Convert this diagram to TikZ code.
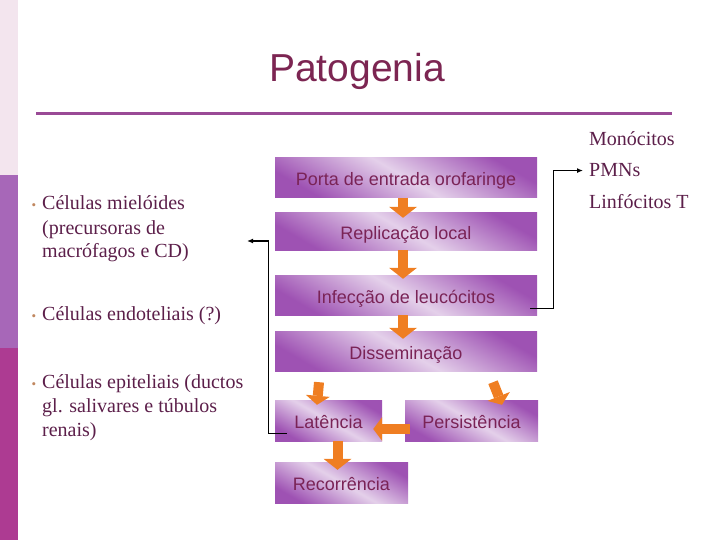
\documentclass[tikz,border=0pt]{standalone}
\usepackage{fontspec}
\setmainfont{Liberation Serif}
\setsansfont{Liberation Sans}
\usetikzlibrary{arrows.meta,positioning}

\definecolor{titlered}{HTML}{7C2552}
\definecolor{rulepurple}{HTML}{9A4A96}
\definecolor{stripa}{HTML}{F3E5EE}
\definecolor{stripb}{HTML}{A767B8}
\definecolor{stripc}{HTML}{AD3B92}
\definecolor{boxdark}{HTML}{9E52B3}
\definecolor{boxlight}{HTML}{E4D0EA}
\definecolor{boxtext}{HTML}{7A2356}
\definecolor{celltext}{HTML}{5C1F4A}
\definecolor{bulletc}{HTML}{C0875F}
\definecolor{arrowc}{HTML}{EF7E22}

\newcommand{\bul}{\llap{\textcolor{bulletc}{\fontsize{13}{13}\selectfont\textbullet}\hspace{6pt}}}

\begin{document}
\begin{tikzpicture}[
  x=1pt, y=-1pt,
  box/.style={top color=boxdark, bottom color=boxdark, middle color=boxlight, shading angle=-30,
    minimum width=262pt, minimum height=40pt, inner sep=0pt, text height=17pt, text depth=0.5pt,
    font=\sffamily\fontsize{18}{20}\selectfont, text=boxtext},
  celltext/.style={font=\fontsize{20}{24}\selectfont, text=celltext, inner sep=0pt, align=left},
  flowarrow/.style={draw=arrowc, line width=10pt, -{Triangle[width=28pt, length=11pt, line width=0pt]}},
  smallarrow/.style={draw=arrowc, line width=10pt, -{Triangle[width=24pt, length=9pt, line width=0pt]}},
  link/.style={draw=black, line width=1.2pt, -{Latex[length=6pt, width=5pt]}}
]
\useasboundingbox (0,0) rectangle (720,540);

% side strip
\fill[stripa] (0,0) rectangle (18,175);
\fill[stripb] (0,175) rectangle (18,348);
\fill[stripc] (0,348) rectangle (18,540);

% title
\node[font=\sffamily\fontsize{39}{44}\selectfont, text=titlered, anchor=base] (title) at (357,82) {Patogenia};
\draw[rulepurple, line width=3pt] (36,114) -- (672,114);

% cell types (base = last line)
\node[celltext, anchor=base west] (mielo) at (42,258) {\bul Células mielóides\\(precursoras de\\macrófagos e CD)};
\node[celltext, anchor=base west] (endo) at (42,320) {\bul Células endoteliais (?)};
\node[celltext, anchor=base west] (epit) at (42,436) {\bul Células epiteliais (ductos\\gl. salivares e túbulos\\renais)};
\coordinate (mieloarrow) at (247,241);

\node[celltext, anchor=base west] (mono) at (589,146) {Monócitos};
\node[celltext, anchor=base west] (pmn) at (589,177) {PMNs};
\node[celltext, anchor=base west] (linfo) at (589,208) {Linfócitos T};

% flow
\node[box] (porta) at (406,177.5) {Porta de entrada orofaringe};
\node[box, minimum height=37pt] (replic) at (406,231.5) {Replicação local};
\node[box] (infec) at (406,295) {Infecção de leucócitos};
\node[box] (dissem) at (406,351) {Disseminação};
\node[box, minimum width=107pt, minimum height=41pt] (laten) at (328.5,420.5) {Latência};
\node[box, minimum width=133pt, minimum height=41pt] (persist) at (471.5,420.5) {Persistência};
\node[box, minimum width=133pt, minimum height=41pt] (recorr) at (341.5,482.5) {Recorrência};

\draw[flowarrow] ([xshift=-3pt]porta.south) -- ([xshift=-3pt,yshift=-5pt]replic.north);
\draw[flowarrow] ([xshift=-3pt]replic.south) -- ([xshift=-3pt,yshift=-4pt]infec.north);
\draw[flowarrow] ([xshift=-3pt]infec.south) -- ([xshift=-3pt,yshift=-8pt]dissem.north);
\draw[smallarrow] ([xshift=-87pt,yshift=-11pt]dissem.south) -- ([xshift=-11.5pt,yshift=-5pt]laten.north);
\draw[smallarrow] ([xshift=87pt,yshift=-11pt]dissem.south) -- ([xshift=30.5pt,yshift=-5pt]persist.north);
\draw[smallarrow] ([xshift=5pt,yshift=-8.5pt]persist.west) -- ([xshift=-9pt,yshift=-8.5pt]laten.east);
\draw[flowarrow] ([xshift=9pt]laten.south) -- ([xshift=-4pt,yshift=-8pt]recorr.north);

% links
\draw[link] ([xshift=-7pt,yshift=7pt]infec.south east) -- ++(23,0) |- ([xshift=-6pt]pmn.west);
\draw[link] ([xshift=12pt,yshift=8pt]laten.south west) -- ++(-18,0) |- (mieloarrow);
\end{tikzpicture}
\end{document}
